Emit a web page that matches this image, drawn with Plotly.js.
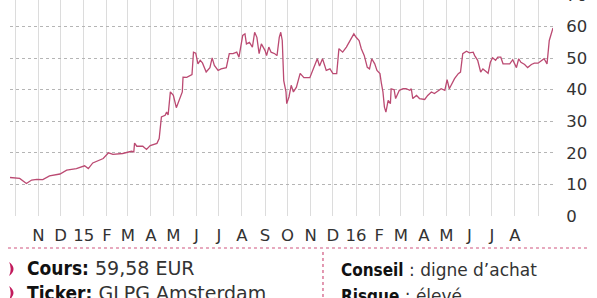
<!DOCTYPE html>
<html>
<head>
<meta charset="utf-8">
<script src="https://cdn.plot.ly/plotly-3.0.1.min.js"></script>
<style>
html,body{margin:0;padding:0;background:#fff;overflow:hidden;}
#wrap{position:relative;width:597px;height:298px;overflow:hidden;}
#chart{position:absolute;left:0;top:-20px;width:597px;height:318px;}
</style>
</head>
<body>
<div id="wrap"><div id="chart"></div></div>
<script>
// Galapagos (GLPG) share price, EUR
const dates = [
 '2014-09-24','2014-10-07','2014-10-16','2014-10-23','2014-10-30','2014-11-07','2014-11-16','2014-11-30',
 '2014-12-09','2014-12-22','2015-01-02','2015-01-07','2015-01-13','2015-01-27','2015-02-03','2015-02-09',
 '2015-02-22','2015-03-06','2015-03-09','2015-03-10','2015-03-13','2015-03-21','2015-03-26','2015-03-31',
 '2015-04-09','2015-04-12','2015-04-15','2015-04-20','2015-04-22','2015-04-24','2015-04-27','2015-05-01',
 '2015-05-05','2015-05-10','2015-05-13','2015-05-14','2015-05-19','2015-05-26','2015-05-28','2015-05-31',
 '2015-06-03','2015-06-06','2015-06-09','2015-06-14','2015-06-19','2015-06-22','2015-06-25','2015-06-30',
 '2015-07-04','2015-07-11','2015-07-15','2015-07-20','2015-07-25','2015-07-28','2015-08-02','2015-08-05',
 '2015-08-07','2015-08-11','2015-08-15','2015-08-18','2015-08-21','2015-08-24','2015-08-27','2015-09-01',
 '2015-09-03','2015-09-06','2015-09-09','2015-09-14','2015-09-17','2015-09-20','2015-09-22','2015-09-24',
 '2015-09-26','2015-09-29','2015-09-30','2015-10-03','2015-10-06','2015-10-09','2015-10-13','2015-10-18',
 '2015-10-23','2015-10-31','2015-11-04','2015-11-10','2015-11-13','2015-11-17','2015-11-22','2015-11-27',
 '2015-12-01','2015-12-06','2015-12-09','2015-12-14','2015-12-19','2015-12-24','2015-12-29','2016-01-01',
 '2016-01-05','2016-01-08','2016-01-12','2016-01-16','2016-01-19','2016-01-22','2016-01-26','2016-01-29',
 '2016-02-02','2016-02-04','2016-02-06','2016-02-08','2016-02-10','2016-02-13','2016-02-16','2016-02-17',
 '2016-02-21','2016-02-23','2016-02-28','2016-03-04','2016-03-08','2016-03-13','2016-03-15','2016-03-17',
 '2016-03-22','2016-03-26','2016-04-02','2016-04-06','2016-04-11','2016-04-15','2016-04-20','2016-04-24',
 '2016-04-29','2016-05-02','2016-05-05','2016-05-08','2016-05-12','2016-05-17','2016-05-20','2016-05-23',
 '2016-05-28','2016-06-01','2016-06-06','2016-06-08','2016-06-12','2016-06-16','2016-06-19','2016-06-22',
 '2016-06-26','2016-06-29','2016-07-02','2016-07-06','2016-07-09','2016-07-13','2016-07-16','2016-07-20',
 '2016-07-25','2016-07-29','2016-08-03','2016-08-06','2016-08-09','2016-08-14','2016-08-18','2016-08-23',
 '2016-08-27','2016-09-01','2016-09-05','2016-09-09','2016-09-13','2016-09-16','2016-09-21'
];
const prices = [
 12.2,11.9,10.3,11.4,11.6,11.5,12.7,13.3,
 14.5,15.0,15.9,15.0,16.8,18.2,20.0,19.5,
 19.8,20.5,20.3,23.1,22.1,22.1,21.1,22.3,
 23.0,24.5,31.4,31.9,32.9,32.0,39.3,38.2,
 34.3,37.5,39.3,44.0,43.9,44.8,51.9,51.6,
 48.2,49.3,48.5,45.6,47.0,50.1,47.7,46.1,
 46.6,47.0,51.4,51.4,51.9,50.3,57.2,57.7,
 54.5,55.0,53.5,58.2,56.6,51.4,54.5,52.4,
 50.8,53.5,51.9,51.4,50.8,56.6,58.2,55.6,
 42.9,39.3,35.6,37.7,41.4,39.3,40.8,45.2,
 43.8,43.8,46.1,49.8,47.5,49.8,46.1,46.6,
 45.1,45.1,53.0,51.9,53.5,55.8,57.7,56.6,
 55.6,53.0,50.8,47.1,46.6,49.8,48.2,46.1,
 45.1,41.9,39.3,34.5,32.9,36.6,35.6,40.3,
 40.0,37.2,39.8,40.3,40.3,39.8,40.3,37.2,
 38.2,37.2,36.9,38.2,39.3,38.8,39.5,40.3,
 39.8,43.2,40.3,41.9,43.5,45.1,45.6,51.4,
 52.2,51.7,51.9,50.8,49.3,45.6,46.6,46.0,
 45.2,48.7,50.1,49.3,50.3,50.3,48.2,48.2,
 48.2,49.5,47.0,49.8,48.7,48.0,47.0,48.0,
 48.4,48.4,49.0,49.8,48.2,55.6,59.58
];
const monthTicks = [
 '2014-10-01','2014-11-01','2014-12-01','2015-01-01','2015-02-01','2015-03-01','2015-04-01','2015-05-01',
 '2015-06-01','2015-07-01','2015-08-01','2015-09-01','2015-10-01','2015-11-01','2015-12-01','2016-01-01',
 '2016-02-01','2016-03-01','2016-04-01','2016-05-01','2016-06-01','2016-07-01','2016-08-01','2016-09-01'
];
const monthLabels = ['','N','D','15','F','M','A','M','J','J','A','S','O','N','D','16','F','M','A','M','J','J','A',''];
const yTicks = [0,10,20,30,40,50,60,70];
const info = {
  cours: '59,58 EUR',
  ticker: 'GLPG Amsterdam',
  conseil: 'digne d\u2019achat',
  risque: '\u00e9lev\u00e9'
};

const BOLD = 'font-family:\'DejaVu Sans Condensed\',\'DejaVu Sans\';font-weight:bold;color:#111';
const accent = '#c21a5c';
function chevron(y0, y1) {
  const ym = (y0 + y1) / 2;
  return {type:'path', xref:'paper', yref:'paper', fillcolor:accent, line:{width:0},
    path:`M -0.0015,${y0} Q 0.0145,${ym} -0.0015,${y1} Q 0.004,${ym} -0.0015,${y0} Z`};
}

const trace = {
  x: dates, y: prices, type:'scatter', mode:'lines',
  line:{color:'#bb4a72', width:1.3}, hoverinfo:'skip'
};

const layout = {
  width:597, height:318,
  margin:{l:10, r:44, t:15, b:82},
  paper_bgcolor:'#fff', plot_bgcolor:'#fff',
  showlegend:false,
  font:{family:'DejaVu Sans', color:'#333', size:16},
  xaxis:{
    type:'date', range:['2014-09-24','2016-09-21'],
    tickvals: monthTicks, ticktext: monthLabels, tickangle:0,
    showgrid:true, gridcolor:'#dcdcdc', gridwidth:1,
    ticks:'outside', ticklen:4, tickcolor:'rgba(0,0,0,0)',
    tickfont:{family:'DejaVu Sans', size:16.5, color:'#333'},
    zeroline:false, showline:false, fixedrange:true
  },
  yaxis:{
    side:'right', range:[0,70], tickvals:yTicks,
    showgrid:true, gridcolor:'#b5b5b5', gridwidth:1, griddash:'dot',
    ticks:'outside', ticklen:9, tickcolor:'rgba(0,0,0,0)',
    tickfont:{family:'DejaVu Sans', size:16.5, color:'#333'},
    zeroline:false, showline:false, fixedrange:true
  },
  shapes:[
    {type:'line', xref:'paper', yref:'paper', x0:-0.0037, x1:1.0645, y0:-0.1448, y1:-0.1448,
     line:{color:'#d0557e', width:1.2, dash:'dot'}},
    {type:'line', xref:'paper', yref:'paper', x0:0.5764, x1:0.5764, y0:-0.163, y1:-0.40,
     line:{color:'#d0557e', width:1.2, dash:'dot'}},
    chevron(-0.2085, -0.2715),
    chevron(-0.317, -0.38)
  ],
  annotations:[
    {xref:'paper', yref:'paper', x:0.0276, y:-0.235, xanchor:'left', yanchor:'middle', showarrow:false,
     font:{family:'DejaVu Sans', size:19, color:'#333'},
     text:`<span style="${BOLD}">Cours:</span> ${info.cours}`},
    {xref:'paper', yref:'paper', x:0.0276, y:-0.348, xanchor:'left', yanchor:'middle', showarrow:false,
     font:{family:'DejaVu Sans', size:19, color:'#333'},
     text:`<span style="${BOLD}">Ticker:</span> ${info.ticker}`},
    {xref:'paper', yref:'paper', x:0.606, y:-0.2466, xanchor:'left', yanchor:'middle', showarrow:false,
     font:{family:'DejaVu Sans', size:17, color:'#333'},
     text:`<span style="${BOLD}">Conseil</span> : ${info.conseil}`},
    {xref:'paper', yref:'paper', x:0.606, y:-0.362, xanchor:'left', yanchor:'middle', showarrow:false,
     font:{family:'DejaVu Sans', size:17, color:'#333'},
     text:`<span style="${BOLD}">Risque</span> : ${info.risque}`}
  ]
};

Plotly.newPlot('chart', [trace], layout, {staticPlot:true, displayModeBar:false});
</script>
</body>
</html>
